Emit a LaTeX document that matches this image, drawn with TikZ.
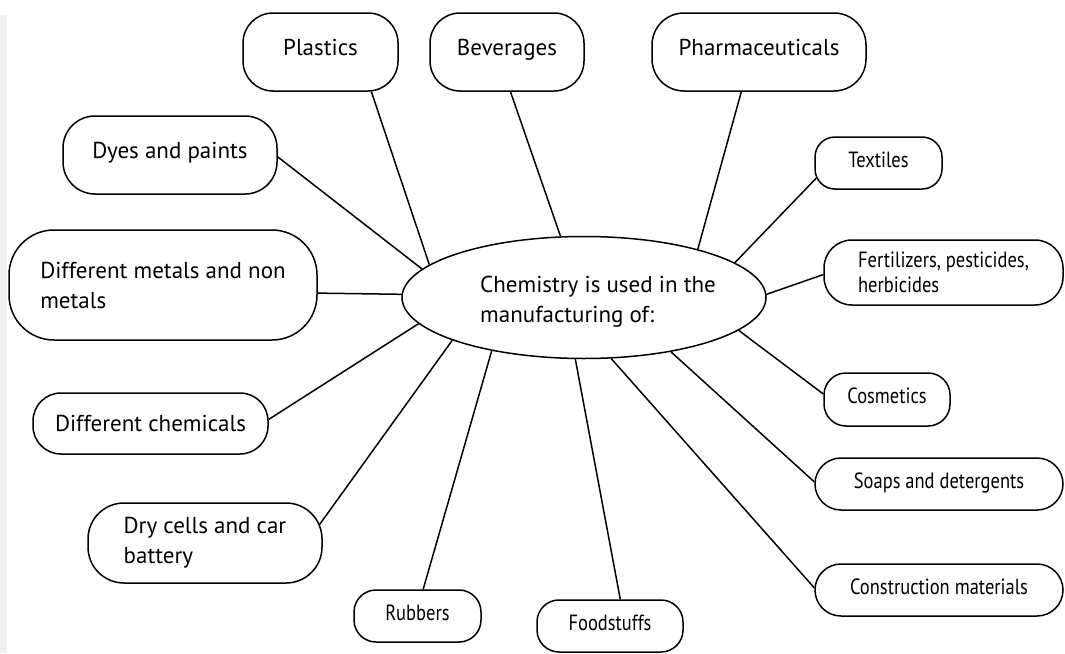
\documentclass[tikz,border=0pt]{standalone}
\usepackage{fontspec}
\setmainfont{PT Sans}
\newfontfamily\condfont[FakeStretch=0.84]{PT Sans}
\usetikzlibrary{shapes.geometric}
\begin{document}
\begin{tikzpicture}[x=1pt,y=-1pt,
  box/.style={draw, line width=1.5pt, rounded corners=#1, inner sep=0pt, align=left,
    font=\fontsize{23}{30}\selectfont},
  cbox/.style={box=#1, font=\condfont\fontsize{22}{25}\selectfont},
  upbig/.style={text height=17pt, text depth=11pt},
  upsmall/.style={text height=16pt, text depth=8pt},
  conn/.style={line width=1.5pt},
  hubshape/.style={draw, ellipse, line width=1.5pt, inner sep=0pt, minimum width=364pt, minimum height=122pt}
]
\useasboundingbox (0,0) rectangle (1065,653);
\fill[black!6] (0,15) rectangle (7,653);

% hub
\node[hubshape] (hub) at (584,297.5) {};
\node[align=left, inner sep=0pt, font=\fontsize{23}{30}\selectfont] (hubtext) at (598,302) {Chemistry is used in the\\manufacturing of:};

% top and left boxes
\node[box=30, upbig, minimum width=155pt, minimum height=78pt] (plastics) at (320.5,52) {Plastics};
\node[box=30, upbig, minimum width=154pt, minimum height=78pt] (beverages) at (507,52) {Beverages};
\node[box=32, upbig, minimum width=214pt, minimum height=78pt] (pharma) at (759,52) {Pharmaceuticals};
\node[box=32, upbig, minimum width=214pt, minimum height=78pt] (dyes) at (170,155) {Dyes and paints};
\node[box=45, minimum width=308pt, minimum height=110pt] (metals) at (163,285) {Different metals and non\\metals};
\node[box=28, minimum width=235pt, minimum height=61pt] (chemicals) at (150.5,423.5) {Different chemicals};
\node[box=36, minimum width=234pt, minimum height=80pt] (drycells) at (205,543) {Dry cells and car\\battery};

% condensed boxes
\node[cbox=20, upsmall, minimum width=127pt, minimum height=52pt] (textiles) at (878.5,163) {Textiles};
\node[cbox=28, minimum width=239pt, minimum height=65pt] (fert) at (943.5,272.5) {Fertilizers, pesticides,\\herbicides};
\node[cbox=22, upsmall, minimum width=126pt, minimum height=53pt] (cosmetics) at (887,399.5) {Cosmetics};
\node[cbox=26, upsmall, minimum width=248pt, minimum height=52pt] (soaps) at (939,484) {Soaps and detergents};
\node[cbox=26, upsmall, minimum width=248pt, minimum height=52pt] (construction) at (939,590) {Construction materials};
\node[cbox=22, upsmall, minimum width=146pt, minimum height=52pt] (food) at (610,626) {Foodstuffs};
\node[cbox=22, upsmall, minimum width=127pt, minimum height=52pt] (rubbers) at (417.5,616) {Rubbers};

% connectors
\draw[conn] (plastics.-38.8) -- (hub.168.3);
\draw[conn] (beverages.-85.6) -- (hub.111);
\draw[conn] (pharma.-114.8) -- (hub.23.6);
\draw[conn, shorten <=-4pt] (textiles.195.7) -- (hub.13.4);
\draw[conn] (fert.181.7) -- (hub.1.6);
\draw[conn] (cosmetics.175.8) -- (hub.-12.5);
\draw[conn] (soaps.179.5) -- (hub.-32.9);
\draw[conn] (construction.179) -- (hub.-66.1);
\draw[conn] (food.69) -- (hub.-98.3);
\draw[conn] (rubbers.78) -- (hub.-150.3);
\draw[conn, shorten <=-6pt] (drycells.11.5) -- (hub.-162);
\draw[conn] (chemicals.2.7) -- (hub.-171.4);
\draw[conn] (metals.-3.3) -- (hub.179);
\draw[conn] (dyes.-1.6) -- (hub.170.9);
\end{tikzpicture}
\end{document}
